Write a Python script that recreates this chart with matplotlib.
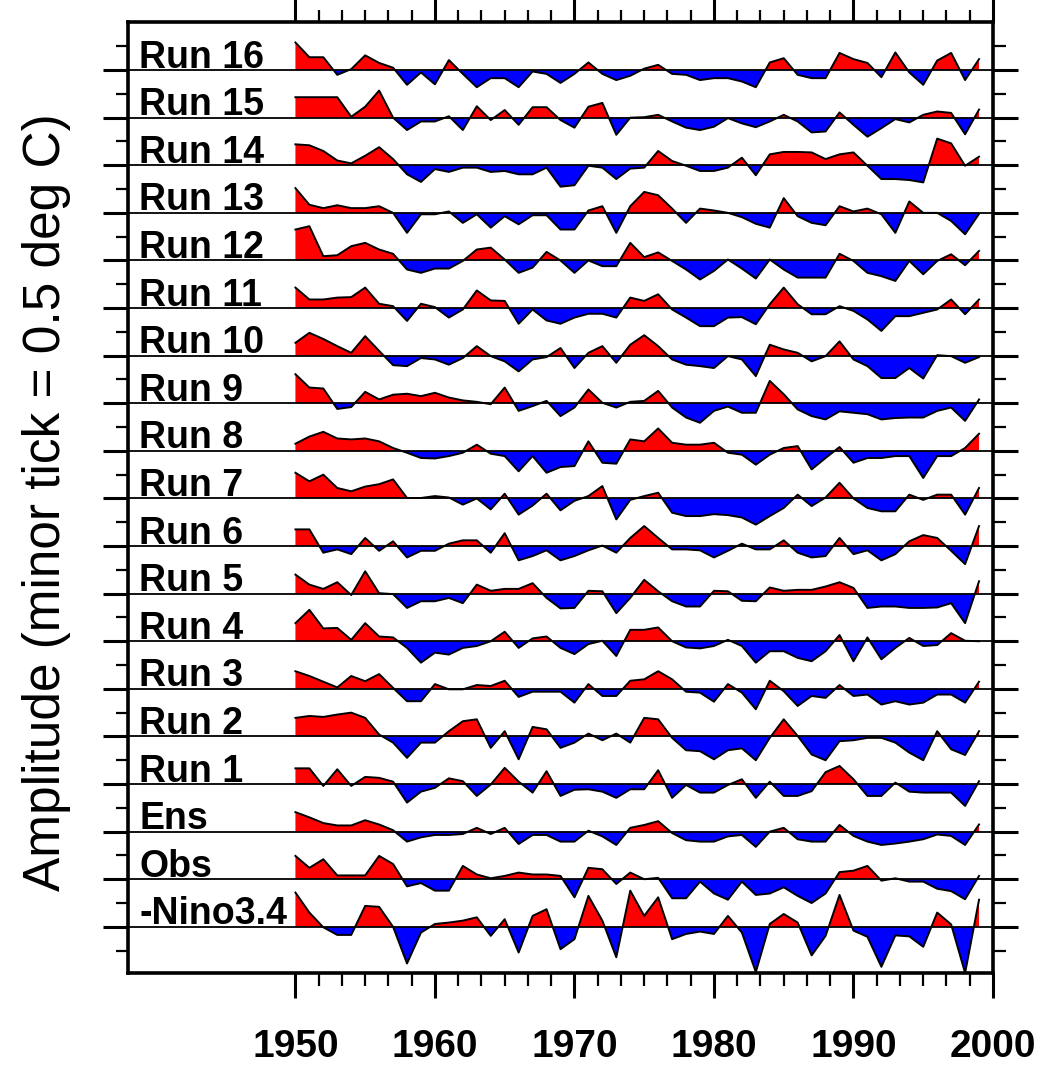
import numpy as np
import matplotlib
matplotlib.use("Agg")
import matplotlib.pyplot as plt
from matplotlib.ticker import FixedLocator

plt.rcParams['font.family'] = ['Liberation Sans', 'DejaVu Sans']

years = list(range(1950, 2000))

labels = ["-Nino3.4", "Obs", "Ens", "Run 1", "Run 2", "Run 3", "Run 4", "Run 5",
          "Run 6", "Run 7", "Run 8", "Run 9", "Run 10", "Run 11", "Run 12",
          "Run 13", "Run 14", "Run 15", "Run 16"]

run16 = [0.58, 0.27, 0.27, -0.1, 0.02, 0.31, 0.15, 0.05, -0.31, -0.05,
         -0.3, 0.21, -0.08, -0.36, -0.17, -0.17, -0.36, -0.03, -0.08, -0.27,
         -0.08, 0.16, -0.08, -0.21, -0.12, 0.03, 0.11, -0.08, -0.1, -0.21,
         -0.17, -0.17, -0.24, -0.36, 0.16, 0.25, -0.1, -0.17, -0.17, 0.36,
         0.23, 0.15, -0.15, 0.37, -0.05, -0.31, 0.2, 0.36, -0.21, 0.23]
run15 = [0.43, 0.43, 0.43, 0.43, 0.02, 0.23, 0.57, 0.0, -0.26, -0.08,
         -0.08, 0.03, -0.26, 0.24, -0.05, 0.16, -0.15, 0.22, 0.22, -0.05,
         -0.21, 0.23, 0.31, -0.36, 0.0, 0.01, 0.06, -0.08, -0.21, -0.26,
         -0.19, -0.01, -0.12, -0.2, -0.08, 0.06, -0.08, -0.31, -0.29, 0.11,
         -0.15, -0.4, -0.22, -0.03, -0.1, 0.06, 0.13, 0.1, -0.35, 0.17]
run14 = [0.44, 0.42, 0.3, 0.1, 0.04, 0.2, 0.38, 0.13, -0.19, -0.35,
         -0.08, -0.14, -0.05, -0.05, -0.14, -0.12, -0.19, -0.19, -0.05, -0.45,
         -0.42, -0.01, -0.05, -0.29, -0.07, -0.05, 0.3, 0.09, -0.01, -0.12,
         -0.12, -0.05, 0.16, -0.21, 0.23, 0.28, 0.28, 0.27, 0.13, 0.23,
         0.27, -0.01, -0.29, -0.29, -0.31, -0.36, 0.56, 0.46, -0.01, 0.18]
run13 = [0.52, 0.17, 0.1, 0.16, 0.1, 0.1, 0.14, 0.0, -0.42, -0.03,
         -0.03, 0.03, -0.21, -0.03, -0.31, -0.07, -0.24, -0.05, -0.05, -0.35,
         -0.35, 0.05, 0.14, -0.42, 0.14, 0.44, 0.37, 0.09, -0.21, 0.09,
         0.05, 0.0, -0.09, -0.23, -0.31, 0.31, -0.07, -0.21, -0.26, 0.14,
         0.03, 0.09, -0.03, -0.42, 0.24, 0.0, 0.0, -0.17, -0.45, -0.02]
run12 = [0.65, 0.72, 0.09, 0.11, 0.3, 0.37, 0.23, 0.14, -0.19, -0.26,
         -0.17, -0.17, -0.01, 0.23, 0.27, 0.02, -0.26, -0.15, 0.18, 0.0,
         -0.26, 0.0, -0.12, -0.12, 0.37, 0.07, 0.17, -0.01, -0.19, -0.4,
         -0.22, 0.02, -0.17, -0.38, 0.02, -0.19, -0.36, -0.36, -0.36, 0.14,
         -0.01, -0.26, -0.33, -0.43, -0.01, -0.29, -0.01, 0.13, -0.1, 0.2]
run11 = [0.43, 0.18, 0.18, 0.22, 0.23, 0.43, 0.09, 0.04, -0.27, 0.09,
         0.02, -0.2, -0.03, 0.37, 0.16, 0.15, -0.33, -0.03, -0.26, -0.33,
         -0.2, -0.12, -0.12, -0.2, 0.22, 0.15, 0.29, -0.03, -0.2, -0.38,
         -0.38, -0.2, -0.19, -0.34, 0.08, 0.43, 0.08, -0.13, -0.13, 0.04,
         -0.06, -0.24, -0.48, -0.17, -0.17, -0.1, -0.03, 0.18, -0.13, 0.18]
run10 = [0.27, 0.48, 0.35, 0.2, 0.06, 0.41, 0.1, -0.2, -0.22, -0.05,
         -0.08, -0.19, -0.05, 0.2, -0.01, -0.12, -0.33, -0.08, -0.03, 0.16,
         -0.26, 0.06, 0.2, -0.15, 0.23, 0.43, 0.2, -0.08, -0.19, -0.22,
         -0.26, -0.01, -0.08, -0.43, 0.23, 0.13, 0.06, -0.12, -0.01, 0.3,
         -0.08, -0.22, -0.47, -0.47, -0.26, -0.48, 0.01, -0.01, -0.15, -0.03]
run9 = [0.61, 0.33, 0.31, -0.12, -0.08, 0.24, 0.08, 0.18, 0.2, 0.15,
        0.22, 0.12, 0.06, 0.03, -0.02, 0.33, -0.16, -0.06, 0.05, -0.27,
        -0.09, 0.29, 0.01, -0.09, 0.03, 0.05, 0.26, -0.09, -0.3, -0.41,
        -0.16, -0.07, -0.2, -0.2, 0.47, 0.19, -0.13, -0.27, -0.34, -0.17,
        -0.2, -0.23, -0.34, -0.31, -0.3, -0.3, -0.16, -0.09, -0.37, 0.08]
run8 = [0.15, 0.3, 0.4, 0.26, 0.24, 0.26, 0.2, 0.06, -0.04, -0.15,
        -0.16, -0.11, -0.04, 0.13, -0.06, -0.11, -0.43, -0.11, -0.46, -0.34,
        -0.32, 0.2, -0.25, -0.27, 0.24, 0.2, 0.47, 0.17, 0.13, 0.13,
        0.17, -0.04, -0.08, -0.29, -0.08, 0.06, 0.1, -0.39, -0.15, 0.08,
        -0.25, -0.15, -0.15, -0.11, -0.11, -0.57, -0.11, -0.11, 0.06, 0.36]
run7 = [0.54, 0.36, 0.5, 0.22, 0.15, 0.25, 0.3, 0.4, 0.01, 0.01,
        0.05, 0.02, -0.13, 0.0, -0.23, 0.1, -0.34, -0.15, 0.1, -0.25,
        -0.05, 0.05, 0.26, -0.44, -0.03, 0.05, 0.12, -0.3, -0.37, -0.37,
        -0.33, -0.35, -0.4, -0.55, -0.37, -0.2, 0.08, -0.16, 0.02, 0.33,
        0.0, -0.2, -0.27, -0.27, 0.08, -0.03, 0.08, 0.08, -0.34, 0.22]
run6 = [0.35, 0.35, -0.14, -0.07, -0.17, 0.17, -0.1, 0.1, -0.24, -0.1,
        -0.1, 0.05, 0.12, 0.12, -0.14, 0.27, -0.3, -0.21, -0.09, -0.3,
        -0.21, -0.09, 0.01, -0.14, 0.17, 0.42, 0.17, -0.07, -0.07, -0.09,
        -0.24, -0.1, 0.05, -0.07, -0.07, 0.12, -0.14, -0.24, -0.21, 0.17,
        -0.17, -0.09, -0.3, -0.17, 0.1, 0.23, 0.17, -0.1, -0.38, 0.42]
run5 = [0.4, 0.19, 0.1, 0.24, -0.03, 0.47, 0.01, -0.01, -0.3, -0.16,
        -0.16, -0.09, -0.2, 0.19, 0.06, 0.1, 0.1, 0.22, -0.09, -0.31,
        -0.3, 0.06, 0.05, -0.41, -0.09, 0.29, 0.05, -0.16, -0.27, -0.27,
        0.06, 0.05, -0.15, -0.16, 0.13, 0.06, 0.08, 0.08, 0.15, 0.24,
        0.12, -0.3, -0.27, -0.27, -0.3, -0.3, -0.29, -0.2, -0.62, 0.26]
run4 = [0.38, 0.66, 0.27, 0.28, 0.03, 0.38, 0.1, 0.08, -0.14, -0.45,
        -0.24, -0.28, -0.14, -0.1, 0.0, 0.2, -0.14, 0.06, 0.1, -0.14,
        -0.27, -0.06, 0.01, -0.31, 0.24, 0.24, 0.29, 0.0, -0.13, -0.15,
        -0.1, 0.03, -0.1, -0.45, -0.21, -0.21, -0.35, -0.42, -0.21, 0.13,
        -0.42, 0.08, -0.38, -0.14, 0.07, -0.1, -0.08, 0.17, 0.01, 0.0]
run3 = [0.37, 0.27, 0.15, 0.03, 0.27, 0.16, 0.31, 0.02, -0.26, -0.26,
        0.1, -0.01, -0.01, 0.08, 0.06, 0.17, -0.17, -0.06, -0.06, -0.06,
        -0.29, 0.1, -0.15, -0.15, 0.17, 0.2, 0.37, 0.2, -0.06, -0.08,
        -0.27, 0.1, -0.08, -0.43, 0.17, -0.05, -0.36, -0.15, -0.19, 0.08,
        -0.15, -0.12, -0.33, -0.26, -0.33, -0.29, -0.12, -0.12, -0.29, 0.15]
run2 = [0.39, 0.43, 0.41, 0.46, 0.5, 0.39, 0.04, -0.13, -0.45, -0.13,
        -0.13, 0.11, 0.32, 0.36, -0.24, 0.11, -0.48, 0.2, 0.15, -0.24,
        -0.13, 0.06, -0.08, 0.06, -0.13, 0.39, 0.36, -0.03, -0.29, -0.31,
        -0.48, -0.29, -0.25, -0.5, -0.03, 0.36, 0.01, -0.38, -0.5, -0.1,
        -0.08, -0.03, -0.03, -0.13, -0.34, -0.5, 0.11, -0.27, -0.39, 0.11]
run1 = [0.33, 0.33, -0.04, 0.31, -0.04, 0.15, 0.13, 0.05, -0.39, -0.16,
        -0.08, 0.12, 0.06, -0.25, -0.01, 0.34, 0.05, -0.18, 0.27, -0.25,
        -0.12, -0.11, -0.16, -0.29, -0.11, -0.11, 0.29, -0.29, -0.02, -0.18,
        -0.18, -0.02, 0.1, -0.29, 0.05, -0.25, -0.25, -0.15, 0.25, 0.38,
        0.1, -0.25, -0.25, 0.03, -0.16, -0.18, -0.18, -0.18, -0.46, 0.06]
ens = [0.41, 0.3, 0.18, 0.13, 0.13, 0.24, 0.15, 0.03, -0.21, -0.12,
       -0.07, -0.07, -0.05, 0.08, -0.05, 0.08, -0.26, -0.07, -0.07, -0.21,
       -0.21, 0.02, -0.1, -0.28, 0.08, 0.14, 0.22, -0.03, -0.18, -0.21,
       -0.21, -0.1, -0.07, -0.32, 0.0, 0.08, -0.16, -0.21, -0.21, 0.14,
       -0.09, -0.21, -0.28, -0.25, -0.21, -0.16, -0.06, -0.09, -0.28, 0.15]
obs = [0.49, 0.24, 0.42, 0.08, 0.08, 0.08, 0.49, 0.32, -0.15, -0.08,
       -0.24, -0.24, 0.28, 0.1, 0.02, 0.07, 0.14, 0.1, 0.1, 0.07,
       -0.38, 0.24, 0.21, -0.1, 0.14, 0.0, 0.03, -0.4, -0.4, -0.05,
       -0.3, -0.43, -0.05, -0.33, -0.3, -0.17, -0.35, -0.5, -0.3, 0.15,
       0.18, 0.28, -0.03, 0.02, -0.05, -0.05, -0.2, -0.25, -0.42, 0.07]
nino34_neg = [0.72, 0.3, -0.01, -0.17, -0.17, 0.44, 0.42, 0.0, -0.77, -0.12,
              0.06, 0.09, 0.13, 0.2, -0.19, 0.16, -0.54, 0.23, 0.37, -0.47,
              -0.26, 0.65, 0.13, -0.64, 0.76, 0.23, 0.62, -0.26, -0.15, -0.1,
              -0.15, 0.23, -0.12, -0.95, 0.06, 0.27, 0.09, -0.6, -0.19, 0.67,
              -0.08, -0.21, -0.84, -0.18, -0.2, -0.42, 0.3, 0.05, -0.97, 0.57]

series = [nino34_neg, obs, ens, run1, run2, run3, run4, run5, run6, run7,
          run8, run9, run10, run11, run12, run13, run14, run15, run16]

W, H = 1045, 1070
fig = plt.figure(figsize=(W / 100, H / 100), dpi=100)
L, R, T, B = 128, 993, 22, 973
ax = fig.add_axes([L / W, 1 - B / H, (R - L) / W, (B - T) / H])
ax.set_xlim(1938, 2000)
ax.set_ylim(-0.97, 19.01)

x = np.array(years, dtype=float)
for off, (lab, vals) in enumerate(zip(labels, series)):
    v = np.array(vals, dtype=float)
    ax.fill_between(x, off, off + v, where=v >= 0, interpolate=True,
                    color='#ff0000', lw=0, zorder=2)
    ax.fill_between(x, off, off + v, where=v <= 0, interpolate=True,
                    color='#0000ff', lw=0, zorder=2)
    ax.axhline(off, color='black', lw=1.3, zorder=3)
    ax.plot(x, off + v, color='black', lw=1.4, zorder=4)
    ax.text(1938.8, off + 0.05, lab, fontsize=27, fontweight='bold',
            ha='left', va='baseline', zorder=5)

for s in ax.spines.values():
    s.set_linewidth(2.6)

major_x = list(range(1950, 2001, 10))
minor_x = [m for m in np.arange(1950, 2000.01, 10 / 6)
           if min(abs(m - j) for j in major_x) > 0.1]
ax.xaxis.set_major_locator(FixedLocator(major_x))
ax.xaxis.set_minor_locator(FixedLocator(minor_x))
ax.set_xticklabels([str(y) for y in major_x])
ax.yaxis.set_major_locator(FixedLocator(list(range(0, 19))))
ax.yaxis.set_minor_locator(FixedLocator([k - 0.5 for k in range(0, 20)]))
ax.set_yticklabels([])

ax.tick_params(axis='both', which='both', direction='out',
               top=True, bottom=True, left=True, right=True,
               labeltop=False, labelleft=False, labelright=False)
ax.tick_params(axis='both', which='major', length=18, width=2.2)
ax.tick_params(axis='both', which='minor', length=9, width=1.6)
ax.tick_params(axis='x', which='major', pad=22, labelsize=28)
for t in ax.get_xticklabels():
    t.set_fontweight('bold')

fig.text(47 / W, 1 - 502 / H, "Amplitude (minor tick = 0.5 deg C)",
         rotation=90, fontsize=37, ha='center', va='center')

fig.savefig("out.png", dpi=100)
